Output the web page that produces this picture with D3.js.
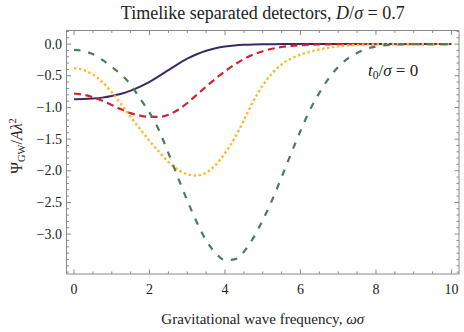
<!DOCTYPE html>
<html><head><meta charset="utf-8">
<script src="https://cdn.jsdelivr.net/npm/d3@7"></script>
<style>
html,body{margin:0;padding:0;background:#fff;}
svg text{font-family:"Liberation Serif","DejaVu Serif",serif;fill:#222;}
</style></head>
<body><svg id="c" width="464" height="332"></svg>
<script>
const omega = [0,0.25,0.5,0.75,1,1.25,1.5,1.75,2,2.25,2.5,2.75,3,3.25,3.5,3.75,4,4.25,4.5,4.75,5,5.25,5.5,5.75,6,6.25,6.5,6.75,7,7.25,7.5,7.75,8,8.25,8.5,8.75,9,9.25,9.5,9.75,10];
const purpleVals = [-0.870,-0.868,-0.860,-0.845,-0.820,-0.785,-0.735,-0.670,-0.595,-0.505,-0.410,-0.315,-0.230,-0.160,-0.105,-0.065,-0.038,-0.021,-0.011,-0.005,-0.002,-0.001,0,0,0,0,0,0,0,0,0,0,0,0,0,0,0,0,0,0,0];
const redVals = [-0.780,-0.800,-0.840,-0.895,-0.960,-1.030,-1.090,-1.130,-1.150,-1.150,-1.115,-1.040,-0.930,-0.800,-0.670,-0.545,-0.430,-0.325,-0.235,-0.165,-0.112,-0.073,-0.046,-0.028,-0.016,-0.009,-0.005,-0.003,-0.001,0,0,0,0,0,0,0,0,0,0,0,0];
const yellowVals = [-0.380,-0.410,-0.480,-0.600,-0.760,-0.950,-1.150,-1.340,-1.530,-1.700,-1.860,-1.980,-2.055,-2.075,-2.030,-1.910,-1.720,-1.490,-1.200,-0.900,-0.650,-0.460,-0.320,-0.230,-0.165,-0.120,-0.085,-0.055,-0.035,-0.022,-0.013,-0.008,-0.004,-0.002,-0.001,0,0,0,0,0,0];
const greenVals = [-0.090,-0.110,-0.160,-0.250,-0.360,-0.480,-0.640,-0.860,-1.080,-1.360,-1.720,-2.100,-2.470,-2.810,-3.100,-3.300,-3.410,-3.400,-3.280,-3.060,-2.780,-2.460,-2.100,-1.730,-1.370,-1.040,-0.770,-0.540,-0.360,-0.230,-0.140,-0.075,-0.038,-0.018,-0.008,-0.003,-0.001,0,0,0,0];
const xTickVals = [0,2,4,6,8,10];
const yTickVals = [0,-0.5,-1,-1.5,-2,-2.5,-3];
const yTickLabels = ["0.0","\u22120.5","\u22121.0","\u22121.5","\u22122.0","\u22122.5","\u22123.0"];

const series = [
  {vals: purpleVals, color:"#3b2b63", dash:null, cap:"butt", w:2},
  {vals: redVals, color:"#d0222b", dash:"7,4.5", cap:"butt", w:2.2},
  {vals: yellowVals, color:"#fdb72a", dash:"2.4,2.6", cap:"butt", w:2.4},
  {vals: greenVals, color:"#4b7b58", dash:"6.5,8", cap:"butt", w:2.2}
];

const svg = d3.select("#c");
const L=66.5, R=459, T=30.5, B=274;
const x = d3.scaleLinear().domain([-0.2,10.2]).range([L,R]);
const y = d3.scaleLinear().domain([0.215,-3.63]).range([T,B]);

svg.append("defs").append("clipPath").attr("id","clip")
  .append("rect").attr("x",L).attr("y",T).attr("width",R-L).attr("height",B-T);

const frameColor="#8a8a8a";
const g = svg.append("g");
const xMinor = d3.range(0,10.01,0.5);
const yMinor = d3.range(0.2,-3.65,-0.1);
function tickX(v,len){
  g.append("line").attr("x1",x(v)).attr("x2",x(v)).attr("y1",B).attr("y2",B-len).attr("stroke",frameColor);
  g.append("line").attr("x1",x(v)).attr("x2",x(v)).attr("y1",T).attr("y2",T+len).attr("stroke",frameColor);
}
function tickY(v,len){
  g.append("line").attr("y1",y(v)).attr("y2",y(v)).attr("x1",L).attr("x2",L+len).attr("stroke",frameColor);
  g.append("line").attr("y1",y(v)).attr("y2",y(v)).attr("x1",R).attr("x2",R-len).attr("stroke",frameColor);
}
xMinor.forEach(v=>{ if(!xTickVals.some(t=>Math.abs(t-v)<1e-6)) tickX(v,2.5); });
xTickVals.forEach(v=>tickX(v,4.5));
yMinor.forEach(v=>{ if(!yTickVals.some(t=>Math.abs(t-v)<1e-6)) tickY(v,2.5); });
yTickVals.forEach(v=>tickY(v,4.5));

svg.append("rect").attr("x",L).attr("y",T).attr("width",R-L).attr("height",B-T)
  .attr("fill","none").attr("stroke",frameColor).attr("stroke-width",1);

xTickVals.forEach(v=>{
  svg.append("text").attr("x",x(v)).attr("y",294).attr("text-anchor","middle")
    .attr("font-size",14).text(v);
});
yTickVals.forEach((v,i)=>{
  svg.append("text").attr("x",62).attr("y",y(v)+4.5).attr("text-anchor","end")
    .attr("font-size",14).text(yTickLabels[i]);
});

const line = d3.line().x(d=>x(d[0])).y(d=>y(d[1])).curve(d3.curveMonotoneX);
const cg = svg.append("g").attr("clip-path","url(#clip)");
series.forEach(s=>{
  const data = omega.map((o,i)=>[o,s.vals[i]]);
  const p = cg.append("path").attr("d",line(data)).attr("fill","none")
    .attr("stroke",s.color).attr("stroke-width",s.w).attr("stroke-linecap",s.cap);
  if(s.dash) p.attr("stroke-dasharray",s.dash);
});

const t = svg.append("text").attr("x",(L+R)/2).attr("y",19).attr("text-anchor","middle").attr("font-size",18);
t.append("tspan").text("Timelike separated detectors, ");
t.append("tspan").attr("font-style","italic").text("D");
t.append("tspan").text("/");
t.append("tspan").attr("font-style","italic").text("σ");
t.append("tspan").text(" = 0.7");

const xl = svg.append("text").attr("x",(L+R)/2).attr("y",324).attr("text-anchor","middle").attr("font-size",15);
xl.append("tspan").text("Gravitational wave frequency, ");
xl.append("tspan").attr("font-style","italic").text("ωσ");

const yl = svg.append("text").attr("transform","translate(22,146) rotate(-90)").attr("text-anchor","middle").attr("font-size",16);
yl.append("tspan").text("Ψ");
yl.append("tspan").attr("font-size",10.5).attr("dy",3).text("GW");
yl.append("tspan").attr("dy",-3).text("/");
yl.append("tspan").attr("font-style","italic").text("Aλ");
yl.append("tspan").attr("font-size",10.5).attr("dy",-6).text("2");

const an = svg.append("text").attr("x",368).attr("y",76).attr("font-size",17);
an.append("tspan").attr("font-style","italic").text("t");
an.append("tspan").attr("font-size",11.5).attr("dy",3).text("0");
an.append("tspan").attr("dy",-3).text("/");
an.append("tspan").attr("font-style","italic").text("σ");
an.append("tspan").text(" = 0");
</script></body></html>
